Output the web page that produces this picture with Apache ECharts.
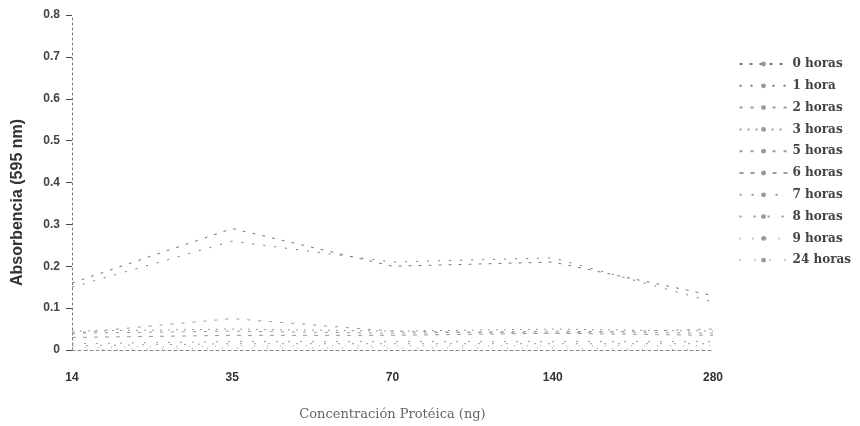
<!DOCTYPE html>
<html>
<head>
<meta charset="utf-8">
<script src="https://cdn.jsdelivr.net/npm/echarts@6/dist/echarts.min.js"></script>
<style>
  html, body { margin: 0; padding: 0; background: #fff; }
  #chart { width: 860px; height: 426px; }
</style>
</head>
<body>
<div id="chart"></div>
<script>
// concentraciones (ng)
const categories = ['14', '35', '70', '140', '280']
const seriesNames = ['0 horas', '1 hora', '2 horas', '3 horas', '5 horas',
  '6 horas', '7 horas', '8 horas', '9 horas', '24 horas']

// absorbancia (aprox.)
const h0 = [0.16, 0.29, 0.20, 0.21, 0.13]
const h1 = [0.15, 0.26, 0.21, 0.22, 0.115]
const h2 = [0.04, 0.075, 0.045, 0.04, 0.05]
const h3 = [0.045, 0.05, 0.045, 0.05, 0.045]
const h5 = [0.04, 0.045, 0.04, 0.045, 0.04]
const h6 = [0.03, 0.035, 0.035, 0.04, 0.035]
const h7 = [0.015, 0.02, 0.02, 0.02, 0.02]
const h8 = [0.01, 0.015, 0.015, 0.015, 0.015]
const h9 = [0.005, 0.01, 0.01, 0.01, 0.01]
const h24 = [0.0, 0.005, 0.005, 0.005, 0.0]
const allData = [h0, h1, h2, h3, h5, h6, h7, h8, h9, h24]

const dashes = [[3, 7], [2, 9], [3, 8], [2, 6], [3, 8],
  [4, 7], [2, 10], [2, 12], [1, 12], [1, 14]]

const chart = echarts.init(document.getElementById('chart'))
chart.setOption({
  animation: false,
  textStyle: { fontFamily: 'Liberation Sans, Arial, sans-serif' },
  grid: { left: 72, right: 147, top: 15, bottom: 76 },
  legend: {
    orient: 'vertical',
    right: 4,
    top: 53,
    itemGap: 9.8,
    itemWidth: 48,
    itemHeight: 6,
    data: seriesNames,
    textStyle: { color: '#444', fontSize: 12, fontWeight: 'bold', fontFamily: 'DejaVu Serif, serif' }
  },
  xAxis: {
    type: 'category',
    data: categories,
    boundaryGap: false,
    name: 'Concentración Protéica (ng)',
    nameLocation: 'middle',
    nameGap: 58,
    nameTextStyle: { color: '#666', fontSize: 13, fontFamily: 'DejaVu Serif, serif' },
    axisLine: { lineStyle: { color: '#888', type: [3, 3], width: 1 } },
    axisTick: { show: false },
    axisLabel: { color: '#333', fontSize: 12, fontWeight: 'bold', margin: 22 }
  },
  yAxis: {
    type: 'value',
    min: 0,
    max: 0.8,
    interval: 0.1,
    name: 'Absorbencia (595 nm)',
    nameLocation: 'middle',
    nameGap: 46,
    nameTextStyle: { color: '#333', fontSize: 16, fontWeight: 'bold', padding: [0, 40, 0, 0] },
    axisLine: { show: true, lineStyle: { color: '#777', type: [2, 3] } },
    axisTick: { show: true, inside: false, length: 6, lineStyle: { color: '#444', width: 1 } },
    splitLine: { show: false },
    axisLabel: {
      color: '#444', fontSize: 12, fontWeight: 'bold', margin: 12,
      formatter: v => (Math.abs(v) < 1e-9 ? '0' : v.toFixed(1))
    }
  },
  series: allData.map((d, i) => ({
    name: seriesNames[i],
    type: 'line',
    data: d,
    symbol: 'none',
    lineStyle: { color: i < 2 ? '#777' : '#999', width: 1, type: dashes[i] },
    itemStyle: { color: '#999' }
  }))
})
</script>
</body>
</html>
